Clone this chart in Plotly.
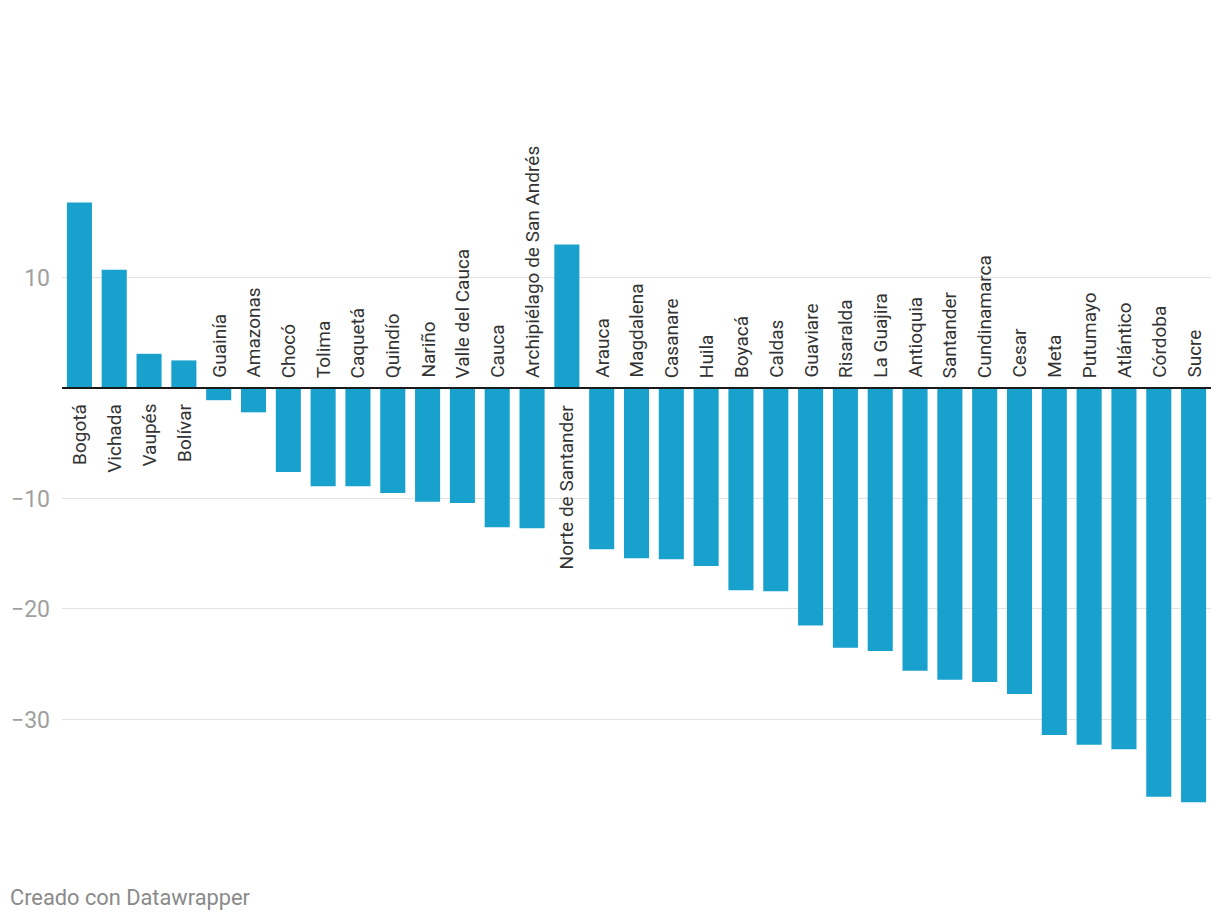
import plotly.graph_objects as go

departamentos = [
    "Bogotá", "Vichada", "Vaupés", "Bolívar", "Guainía", "Amazonas", "Chocó",
    "Tolima", "Caquetá", "Quindío", "Nariño", "Valle del Cauca", "Cauca",
    "Archipiélago de San Andrés", "Norte de Santander", "Arauca", "Magdalena",
    "Casanare", "Huila", "Boyacá", "Caldas", "Guaviare", "Risaralda",
    "La Guajira", "Antioquia", "Santander", "Cundinamarca", "Cesar", "Meta",
    "Putumayo", "Atlántico", "Córdoba", "Sucre",
]
valores = [
    16.8, 10.7, 3.1, 2.5, -1.1, -2.2, -7.6,
    -8.9, -8.9, -9.5, -10.3, -10.4, -12.6,
    -12.7, 13.0, -14.6, -15.4,
    -15.5, -16.1, -18.3, -18.4, -21.5, -23.5,
    -23.8, -25.6, -26.4, -26.6, -27.7, -31.4,
    -32.3, -32.7, -37.0, -37.5,
]
tick_vals = [-30, -20, -10, 10]
tick_text = ["−30", "−20", "−10", "10"]

BAR = "#18a1cd"
FONT = "Roboto"

fig = go.Figure()
fig.add_trace(go.Bar(
    x=departamentos, y=valores, marker=dict(color=BAR, line=dict(width=0)),
    hoverinfo="x+y",
))

annotations = []
for name, v in zip(departamentos, valores):
    if v < 0:
        annotations.append(dict(
            x=name, y=0, xref="x", yref="y", text=name, textangle=-90,
            showarrow=False, yanchor="bottom", xanchor="center", yshift=8,
            font=dict(family=FONT, size=19, color="#333333"),
        ))
    else:
        annotations.append(dict(
            x=name, y=0, xref="x", yref="y", text=name, textangle=-90,
            showarrow=False, yanchor="top", xanchor="center", yshift=-14,
            font=dict(family=FONT, size=19, color="#333333"),
        ))

annotations.append(dict(
    xref="paper", yref="paper", x=-0.0472, y=-0.065, xanchor="left",
    yanchor="middle", text="Creado con Datawrapper", showarrow=False,
    font=dict(family=FONT, size=21.8, color="#8a8a8a"),
))

fig.update_layout(
    width=1220, height=924,
    margin=dict(l=62, r=9, t=145, b=72),
    paper_bgcolor="white", plot_bgcolor="white",
    bargap=0.28,
    showlegend=False,
    font=dict(family=FONT),
    annotations=annotations,
    xaxis=dict(
        showticklabels=False, showgrid=False, zeroline=False,
        range=[-0.5, len(departamentos) - 0.5], fixedrange=True,
    ),
    yaxis=dict(
        range=[-42, 22], tickvals=tick_vals, ticktext=tick_text,
        showgrid=True, gridcolor="#e3e3e3", gridwidth=1,
        zeroline=False, ticks="", ticklabelstandoff=11,
        tickfont=dict(family=FONT, size=23, color="#a0a0a0"),
        fixedrange=True,
    ),
    shapes=[dict(
        type="line", xref="paper", yref="y", x0=0, x1=1, y0=0, y1=0,
        line=dict(color="#1a1a1a", width=2), layer="above",
    )],
)

fig.write_html(
    "out.html",
    config={"displayModeBar": False},
    post_script="document.body.style.margin='0';document.body.style.overflow='hidden';",
)
